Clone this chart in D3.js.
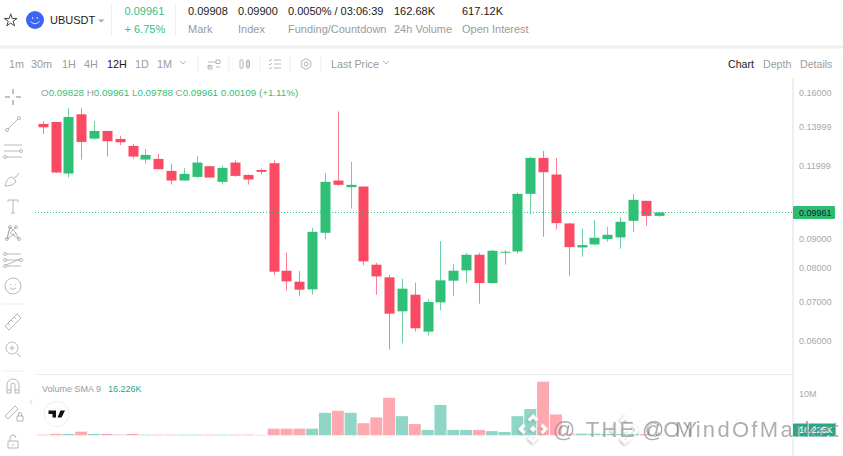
<!DOCTYPE html>
<html>
<head>
<meta charset="utf-8">
<script src="https://cdn.jsdelivr.net/npm/d3@7"></script>
<style>
  html, body { margin: 0; padding: 0; background: #fff; overflow: hidden; }
  svg { display: block; font-family: "Liberation Sans", Arial, sans-serif; }
  .domain { display: none; }
</style>
</head>
<body>
<svg id="chart" width="843" height="456"></svg>
<script>
// candle data, 12H bars starting Jun 10 12:00
const opens = [0.14122,0.14234,0.11613,0.14670,0.13330,0.13739,0.13313,0.12950,0.12272,0.12304,0.11736,0.11298,0.11462,0.11954,0.11239,0.12128,0.11552,0.11782,0.12096,0.07917,0.07581,0.07355,0.09194,0.11298,0.11005,0.11034,0.08106,0.07712,0.06745,0.07202,0.06226,0.06988,0.07611,0.07927,0.08431,0.07541,0.08498,0.08542,0.10720,0.12353,0.11568,0.09538,0.08678,0.08782,0.08968,0.09027,0.09638,0.10429,0.09828];
const highs = [0.14290,0.14234,0.15040,0.15040,0.14290,0.13739,0.13471,0.13053,0.12798,0.12549,0.12064,0.11875,0.12450,0.11954,0.11969,0.12239,0.11567,0.11844,0.12239,0.08498,0.07907,0.09377,0.11644,0.14844,0.12160,0.11034,0.08170,0.07783,0.07671,0.07551,0.07062,0.08897,0.08138,0.08498,0.08498,0.08599,0.08599,0.10777,0.12418,0.12698,0.12353,0.09563,0.09341,0.09677,0.09414,0.09779,0.10720,0.10429,0.09961];
const lows = [0.13577,0.11659,0.11432,0.12272,0.13260,0.12418,0.12985,0.12320,0.12080,0.11813,0.11121,0.11298,0.11417,0.11432,0.11121,0.11462,0.11121,0.11568,0.07783,0.07317,0.07155,0.07202,0.08956,0.11063,0.10119,0.08085,0.07202,0.05800,0.05946,0.06226,0.06136,0.06771,0.07155,0.07551,0.06952,0.07531,0.08106,0.08475,0.09883,0.09050,0.09316,0.07762,0.08365,0.08758,0.08874,0.08633,0.09218,0.09452,0.09788];
const closes = [0.13938,0.11659,0.14517,0.13156,0.13739,0.13191,0.13139,0.12418,0.12499,0.11813,0.11298,0.11598,0.12128,0.11432,0.11875,0.11507,0.11343,0.11690,0.07886,0.07591,0.07346,0.09230,0.11239,0.11107,0.11107,0.08213,0.07742,0.06683,0.07375,0.06308,0.06997,0.07621,0.07917,0.08431,0.07541,0.08565,0.08531,0.10720,0.12353,0.11674,0.09551,0.08689,0.08758,0.09015,0.09122,0.09602,0.10470,0.09828,0.09961];
// volume in millions
const volumes = [0.16,0.32,0.32,0.88,0.32,0.32,0.16,0.32,0.16,0.16,0.16,0.16,0.16,0.16,0.16,0.16,0.16,0.1,1.6,1.6,1.6,1.6,5.4,5.9,5.4,2.9,4.3,9.0,4.6,2.7,1.3,7.3,1.3,1.3,1.3,1.0,0.8,4.6,6.3,12.9,5.0,0.4,0.4,0.4,0.3,0.3,0.3,0.3,0.05];

const priceTicks = [0.16, 0.13999, 0.11999, 0.09, 0.08, 0.07, 0.06];
const lastPrice = 0.09961;
const timeTicks = [
  [new Date(Date.UTC(2024, 5, 13)), "13"],
  [new Date(Date.UTC(2024, 5, 16)), "16"],
  [new Date(Date.UTC(2024, 5, 19)), "19"],
  [new Date(Date.UTC(2024, 5, 22)), "22"],
  [new Date(Date.UTC(2024, 5, 25)), "25"],
  [new Date(Date.UTC(2024, 5, 28)), "28"],
  [new Date(Date.UTC(2024, 6, 1)), "Jul"],
  [new Date(Date.UTC(2024, 6, 4)), "4"],
  [new Date(Date.UTC(2024, 6, 7)), "7"],
  [new Date(Date.UTC(2024, 6, 9, 17)), "17:00"]
];
const times = d3.range(opens.length).map(i => d3.utcHour.offset(new Date(Date.UTC(2024, 5, 10, 12)), i * 12));

const headerStats = [
  ["0.09908", "Mark", 188], ["0.09900", "Index", 238],
  ["0.0050% / 03:06:39", "Funding/Countdown", 288],
  ["162.68K", "24h Volume", 394], ["617.12K", "Open Interest", 462]
];
const intervals = [["1m", 9], ["30m", 31], ["1H", 62], ["4H", 84], ["12H", 107], ["1D", 135], ["1M", 157]];

const upColor = "#2fbf77", downColor = "#fb4a63";
const upVol = "#8fd6c7", downVol = "#fea8b0";
const gridColor = "#ececec", muted = "#9b9b9b";

const svg = d3.select("#chart");
const axisX = 793;

const x = d3.scaleUtc().domain([timeTicks[0][0], timeTicks[8][0]]).range([106.85, 722.7]);
const y = d3.scaleLog().domain([0.16, 0.06]).range([92.3, 341]);
const yVol = d3.scaleLinear().domain([0, 10]).range([435.3, 393.7]);

function label(px, py, str, color, size) {
  return svg.append("text").attr("x", px).attr("y", py).attr("fill", color)
    .attr("font-size", size || 10).text(str);
}

function line(x1, y1, x2, y2, color, w) {
  svg.append("line").attr("x1", x1).attr("y1", y1).attr("x2", x2).attr("y2", y2)
    .attr("stroke", color).attr("stroke-width", w || 1);
}

function icon(px, py, d, color) {
  svg.append("path").attr("transform", `translate(${px},${py})`).attr("d", d)
    .attr("fill", "none").attr("stroke", color || "#a6a6a6").attr("stroke-width", 0.8);
}

function caret(px, py) {
  icon(px, py, "M-3,-1.5L0,1.5L3,-1.5");
}

// small ring used by the drawing tool icons
const ring = (cx, cy) => `M${cx + 1.5},${cy}a1.5,1.5 0 1 1 -3,0a1.5,1.5 0 1 1 3,0`;

// header
line(0, 47, 843, 47, "#f0f0f0", 3);
svg.append("path").attr("transform", "translate(10.7,20.5)")
  .attr("d", d3.symbol(d3.symbolStar, 50)()).attr("fill", "none").attr("stroke", "#444").attr("stroke-width", 1);
svg.append("circle").attr("cx", 35).attr("cy", 20).attr("r", 9).attr("fill", "#3d64f2");
icon(35, 20, "M-4.5,1.5Q0,6 4.5,1.5M-2.4,-3L-2.4,-1M2.2,-3L2.2,-1", "#fff");
label(50, 24, "UBUSDT", "#1a1a1a", 11);
svg.append("path").attr("d", "M98,19.5h6.5l-3.2,3z").attr("fill", "#aaa");
line(111.5, 5, 111.5, 36, "#eee");
line(175.5, 5, 175.5, 36, "#eee");
label(124.5, 15, "0.09961", "#33c08e", 11);
label(124.5, 33, "+ 6.75%", "#33c08e", 11);
headerStats.forEach(d => {
  label(d[2], 15, d[0], "#1a1a1a", 11);
  label(d[2], 33, d[1], muted, 11);
});

// interval toolbar
intervals.forEach(d => label(d[1], 68, d[0], d[0] === "12H" ? "#1a1a1a" : muted, 10.8));
caret(183, 62.5);
[198, 229, 260, 290, 321].forEach(px => line(px, 55, px, 72, "#eee"));
icon(214, 64, "M-6,-2H2M-6,3H-3M2,3H6M2,-4h4v3.5h-4zM-6,1.5h4v3.5h-4z");
icon(245, 64, "M-5,-4h3v8h-3zM1.5,-3h3v6h-3zM3,-5v10");
icon(275, 64, "M-1,-4H6M-1,0H6M-1,4H6M-6,-4l1,1l2,-2M-6,0l1,1l2,-2M-6,4l1,1l2,-2");
icon(306, 64, "M0,-5.5L4.8,-2.7V2.7L0,5.5L-4.8,2.7V-2.7zM2,0A2,2 0 1 1 -2,0A2,2 0 1 1 2,0");
label(331, 68, "Last Price", muted, 10.8);
caret(386, 62.5);
label(728, 68, "Chart", "#1a1a1a", 10.6);
label(763, 68, "Depth", muted, 10.6);
label(800, 68, "Details", muted, 10.6);

// panel frame
line(axisX, 78, axisX, 456, "#dedede");
line(35, 374.5, axisX, 374.5, gridColor);

// left drawing tools
icon(13, 97, "M0,-8V-3M0,3V8M-8,0H-3M3,0H8", "#666");
icon(13, 124, "M-5,5L5,-5" + ring(-6, 6) + ring(6, -6));
icon(13, 152, "M-9,-7H9M-9,-1H7M-7,5H9" + ring(8, -1) + ring(-8, 5));
icon(13, 180, "M-8,6Q-6,-3 -1,-3L3,1Q1,6 -8,6M1,-3L3,-3L6,-7");
icon(13, 206, "M-5,-6H5M0,-6V7M-2,7H2M-5,-6V-4M5,-6V-4");
icon(13, 233, "M-6,6L-3,-6L3,0L6,6M-3,-6L-6,6L3,0M3,-6L-3,0L6,6" + ring(-6, 6) + ring(-3, -6) + ring(3, -6) + ring(6, 6));
icon(13, 260, "M-7,-6H8M-7,0H7M-7,6H8M-7,5L7,-1" + ring(-8, -6) + ring(8, 0) + ring(-8, 0) + ring(-8, 6));
icon(13, 286, "M8,0A8,8 0 1 1 -8,0A8,8 0 1 1 8,0M-3,2Q0,5 3,2M-2.5,-2V-1M2.5,-2V-1");
line(2, 304, 25, 304, "#eee");
icon(13, 322, "M-8,4L4,-8L8,-4L-4,8zM-5,1l2,2M-2,-2l2,2M1,-5l2,2");
icon(13, 349, "M5,-1A6,6 0 1 1 -7,-1A6,6 0 1 1 5,-1M-3.5,-1H1.5M-1,-3.5V1.5M3.5,4L8,8");
line(2, 371, 25, 371, "#eee");
icon(13, 386, "M-6,7V-1A6,6 0 0 1 6,-1V7H2V-1A2,2 0 0 0 -2,-1V7zM-6,4H-2M2,4H6");
icon(13, 412, "M-8,4L2,-6L5,-3L-5,7zM4,4h6v5h-6zM5.5,4V2a1.5,1.5 0 0 1 3,0V4");
icon(13, 442, "M-5,-1h10v7h-10zM-3,-1V-4a3,3 0 0 1 6,0M0,2v2");
icon(31, 402, "M1.5,-2.5L-1,0L1.5,2.5", "#ccc");

// tradingview badge
svg.append("circle").attr("cx", 56.5).attr("cy", 414).attr("r", 12.5)
  .attr("fill", "#fff").attr("stroke", "#eee");
svg.append("path").attr("d", "M48.5,410.5h7.5v7h-3.5v-3.5h-4zM60.5,410.5h4.5l-3.5,7h-4z").attr("fill", "#111");

// volume bars
svg.append("g").selectAll("rect").data(volumes).enter().append("rect")
  .attr("x", (d, i) => x(times[i]) - 6)
  .attr("width", 12)
  .attr("y", d => yVol(d))
  .attr("height", d => yVol(0) - yVol(d))
  .attr("fill", (d, i) => closes[i] >= opens[i] ? upVol : downVol);

// candles
const candles = svg.append("g").selectAll("g").data(times).enter().append("g");
candles.append("line")
  .attr("x1", d => Math.round(x(d)) + 0.5)
  .attr("x2", d => Math.round(x(d)) + 0.5)
  .attr("y1", (d, i) => y(highs[i]))
  .attr("y2", (d, i) => y(lows[i]))
  .attr("stroke", (d, i) => closes[i] >= opens[i] ? upColor : downColor)
  .attr("stroke-opacity", 0.7);
candles.append("rect")
  .attr("x", d => Math.round(x(d)) - 4.5)
  .attr("width", 10)
  .attr("y", (d, i) => y(Math.max(opens[i], closes[i])))
  .attr("height", (d, i) => Math.max(1, Math.abs(y(opens[i]) - y(closes[i]))))
  .attr("fill", (d, i) => closes[i] >= opens[i] ? upColor : downColor);

// last price line and axes
svg.append("line").attr("x1", 35).attr("x2", axisX)
  .attr("y1", y(lastPrice)).attr("y2", y(lastPrice))
  .attr("stroke", upColor).attr("stroke-dasharray", "1 2");

svg.append("g").attr("transform", `translate(${axisX},0)`)
  .call(d3.axisRight(y).tickValues(priceTicks).tickSize(0).tickPadding(6).tickFormat(d3.format(".5f")))
  .call(g => g.selectAll("text").attr("fill", "#a8a8a8").attr("font-size", 9));

svg.append("g").attr("transform", `translate(${axisX},0)`)
  .call(d3.axisRight(yVol).tickValues([10]).tickSize(0).tickPadding(6).tickFormat(d => d + "M"))
  .call(g => g.selectAll("text").attr("fill", "#a8a8a8").attr("font-size", 9));

svg.append("clipPath").attr("id", "time-clip").append("rect")
  .attr("x", 0).attr("y", 436).attr("width", axisX).attr("height", 20);
svg.append("g").attr("transform", "translate(0,437)").attr("clip-path", "url(#time-clip)")
  .call(d3.axisBottom(x).tickValues(timeTicks.map(d => d[0])).tickSize(0).tickPadding(4)
    .tickFormat((d, i) => timeTicks[i][1]))
  .call(g => g.selectAll("text").attr("fill", "#a8a8a8").attr("font-size", 9));

// last price tag
svg.append("rect").attr("x", axisX).attr("y", y(lastPrice) - 6.5).attr("width", 42).attr("height", 13)
  .attr("rx", 1).attr("fill", "#2ebd6e");
label(axisX + 6, y(lastPrice) + 3.2, "0.09961", "#123", 9);

// ohlc legend
const ohlc = svg.append("text").attr("x", 41).attr("y", 95.5).attr("font-size", 9.8).attr("fill", upColor);
[["O", muted], ["0.09828 ", upColor], ["H", muted], ["0.09961 ", upColor], ["L", muted], ["0.09788 ", upColor],
 ["C", muted], ["0.09961 ", upColor], ["0.00109 (+1.11%)", upColor]].forEach(d => {
  ohlc.append("tspan").attr("fill", d[1]).attr("xml:space", "preserve").text(d[0]);
});

// volume legend and tag
label(42, 392, "Volume SMA 9", muted, 9);
label(108, 392, "16.226K", "#26a98b", 9);
svg.append("rect").attr("x", axisX).attr("y", 423.5).attr("width", 42).attr("height", 13)
  .attr("rx", 1).attr("fill", "#26a98b");
label(axisX + 6, 433, "16.226K", "#fff", 9);

// watermark
function mark(px, py) {
  const g = svg.append("g").attr("transform", `translate(${px},${py}) rotate(45)`)
    .style("filter", "drop-shadow(0 1px 1px rgba(110,110,110,.6))");
  g.append("rect").attr("x", -2.5).attr("y", -2.5).attr("width", 5).attr("height", 5).attr("fill", "#fff");
  g.append("path").attr("d", "M-9,-3V-9H-3M3,-9H9V-3M9,3V9H3M-3,9H-9V3").attr("fill", "none")
    .attr("stroke", "#fff").attr("stroke-width", 3.4);
}
mark(533, 429);
mark(625, 430);
[[553, "@ THE COY"], [642, "@ MindOfMarket"]].forEach(d => {
  svg.append("text").attr("x", d[0]).attr("y", 437).attr("font-size", 22)
    .attr("letter-spacing", 2.3).attr("fill", "rgba(120,120,120,.6)")
    .style("filter", "drop-shadow(1px 1px 0 rgba(255,255,255,.95))")
    .text(d[1]);
});
</script>
</body>
</html>
